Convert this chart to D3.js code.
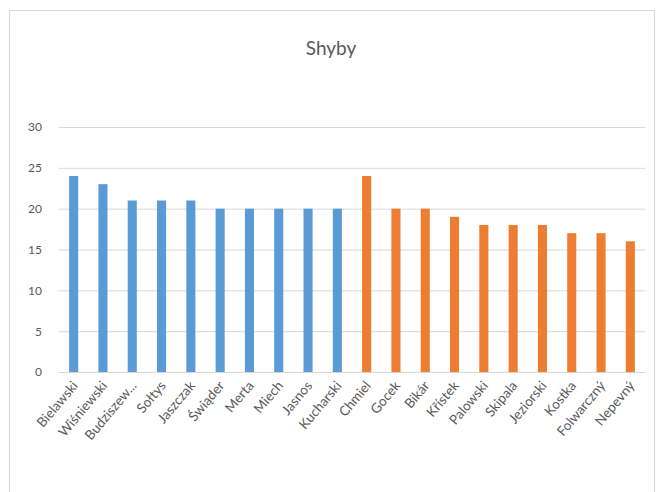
<!DOCTYPE html>
<html><head><meta charset="utf-8">
<script src="https://cdn.jsdelivr.net/npm/d3@7"></script>
<style>body{margin:0;background:#fff}svg{display:block}</style>
</head><body>
<script>
const categories = ["Bielawski","Wiśniewski","Budziszew...","Sołtys","Jaszczak","Świąder","Merta","Miech","Jasnos","Kucharski","Chmiel","Gocek","Bikár","Křístek","Palowski","Skipala","Jeziorski","Kostka","Folwarczný","Nepevný"];
const values = [24,23,21,21,21,20,20,20,20,20,24,20,20,19,18,18,18,17,17,16];
const groups = ["A","A","A","A","A","A","A","A","A","A","B","B","B","B","B","B","B","B","B","B"];
const yTicks = [0,5,10,15,20,25,30];
const title = "Shyby";

const W=659,H=492;
const svg=d3.select("body").append("svg").attr("width",W).attr("height",H);
svg.append("rect").attr("x",9.5).attr("y",10.5).attr("width",645).attr("height",500)
  .attr("fill","#fff").attr("stroke","#d9d9d9");
const m={l:59,r:645,t:127,b:372};
const x=d3.scaleBand().domain(categories).range([m.l,m.r]).paddingInner(0.69).paddingOuter(0.345);
const y=d3.scaleLinear().domain([0,30]).range([m.b,m.t]);
const color=d3.scaleOrdinal().domain(["A","B"]).range(["#5b9bd5","#ed7d31"]);
const font="Lato, 'Open Sans', sans-serif";

svg.append("text").attr("x",331).attr("y",55).attr("text-anchor","middle")
  .attr("font-family",font).attr("font-size",19).attr("fill","#595959").text(title);

const ya=svg.append("g").attr("transform",`translate(${m.l},0)`)
  .call(d3.axisLeft(y).tickValues(yTicks).tickSize(-(m.r-m.l)).tickPadding(17));
ya.select(".domain").remove();
ya.selectAll(".tick line").attr("stroke","#d9d9d9");
ya.selectAll(".tick text").attr("font-family",font).attr("font-size",12).attr("fill","#595959");

svg.append("g").selectAll("rect").data(categories).join("rect")
  .attr("x",d=>x(d)).attr("width",x.bandwidth())
  .attr("y",(d,i)=>y(values[i])).attr("height",(d,i)=>y(0)-y(values[i]))
  .attr("fill",(d,i)=>color(groups[i]));

const xa=svg.append("g").attr("transform",`translate(0,${m.b})`)
  .call(d3.axisBottom(x).tickSize(0).tickPadding(0));
xa.select(".domain").attr("stroke","#d9d9d9");
xa.selectAll(".tick text").attr("font-family",font).attr("font-size",13.5).attr("fill","#595959")
  .attr("text-anchor","end").attr("dy",0)
  .attr("transform","translate(5,14) rotate(-50)");
</script>
</body></html>
